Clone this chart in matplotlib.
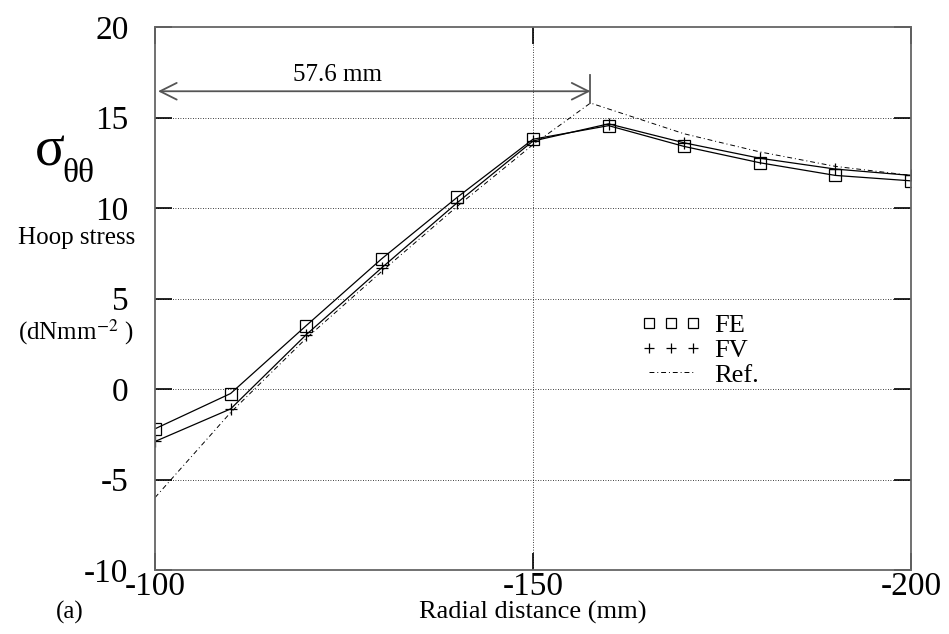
import numpy as np
import matplotlib
matplotlib.use('Agg')
import matplotlib.pyplot as plt
from matplotlib.lines import Line2D

plt.rcParams['font.family'] = ['Liberation Serif', 'DejaVu Serif']
plt.rcParams['mathtext.fontset'] = 'stix'

# datos
r = [-100, -110, -120, -130, -140, -150, -160, -170, -180, -190, -200]
fe = [-2.2, -0.25, 3.5, 7.2, 10.6, 13.8, 14.55, 13.4, 12.5, 11.8, 11.5]
fv = [-2.9, -1.1, 3.0, 6.7, 10.3, 13.7, 14.65, 13.6, 12.75, 12.15, 11.8]
r_ref = [-100, -110, -120, -130, -140, -150, -157.6, -170, -180, -190, -200]
ref = [-6.0, -1.3, 2.8, 6.5, 10.1, 13.5, 15.8, 14.1, 13.1, 12.3, 11.8]
xticks = [-100, -150, -200]
yticks = [-10, -5, 0, 5, 10, 15, 20]
cota = 57.6

fig = plt.figure(figsize=(9.49, 6.34), dpi=100)
ax = fig.add_axes([155/949, 1-570/634, (911-155)/949, (570-27)/634])

ax.plot(r, fe, '-', color='k', lw=0.9, marker='s', ms=8, mfc='none', mec='k', mew=0.9)
ax.plot(r, fv, '-', color='k', lw=0.9, marker='+', ms=9, mew=0.9)
ax.plot(r_ref, ref, color='k', lw=0.7, dashes=[5, 3, 1, 3])

ax.set_xlim(-100, -200)
ax.set_ylim(-10, 20)
ax.set_xticks(xticks)
ax.set_yticks(yticks)
ax.set_xticklabels([str(v) for v in xticks])
ax.set_yticklabels([str(v) for v in yticks])
ax.tick_params(direction='in', length=12, width=1.2, top=True, right=True,
               labelsize=24, color='k')
ax.tick_params(axis='y', pad=19)
ax.tick_params(axis='x', pad=1)
for s in ax.spines.values():
    s.set_color('#666666')
    s.set_linewidth(1.3)
ax.grid(True, color='k', linestyle=(0, (1, 2)), linewidth=0.6)
for g in ax.get_ygridlines():
    if g.get_ydata()[0] in (-10, 20):
        g.set_visible(False)
for g in ax.get_xgridlines():
    if g.get_xdata()[0] in (-100, -200):
        g.set_visible(False)

# cota 57.6 mm
x_pico = -100 - cota
ax.annotate('', xy=(-100.4, 16.45), xytext=(x_pico, 16.45),
            arrowprops=dict(arrowstyle='<->,head_length=0.6,head_width=0.3',
                            color='#555555', lw=1.3, shrinkA=0, shrinkB=0,
                            mutation_scale=20))
ax.plot([x_pico, x_pico], [15.8, 17.35], color='#555555', lw=1.3)
ax.text(-124.1, 16.75, '57.6 mm', fontsize=18, ha='center', va='bottom')

# leyenda
h = [Line2D([], [], ls='none', marker='s', ms=7, mfc='none', mec='k', mew=0.9),
     Line2D([], [], ls='none', marker='+', ms=7, color='k', mew=0.9),
     Line2D([], [], color='k', lw=0.7, dashes=[5, 3, 1, 3])]
ax.legend(h, ['FE', 'FV', 'Ref.'], loc='center left', bbox_to_anchor=(0.625, 0.405),
          frameon=False, numpoints=3, fontsize=19, handlelength=2.3,
          handletextpad=0.5, labelspacing=0.05, borderpad=0)

fig.text(35/949, 1-166/634, 'σ', fontsize=40, va='baseline')
fig.text(62/949, 1-182/634, 'θθ', fontsize=24, va='baseline')
fig.text(77/949, 1-238/634, 'Hoop stress', fontsize=18, ha='center', va='center')
fig.text(76/949, 1-332/634, r'(dNmm$^{-2}$ )', fontsize=18, ha='center', va='center')
fig.text(70/949, 1-612/634, '(a)', fontsize=18, ha='center', va='center')
fig.text(533/949, 1-612/634, 'Radial distance (mm)', fontsize=19, ha='center', va='center')

fig.savefig('out.png', dpi=100)
